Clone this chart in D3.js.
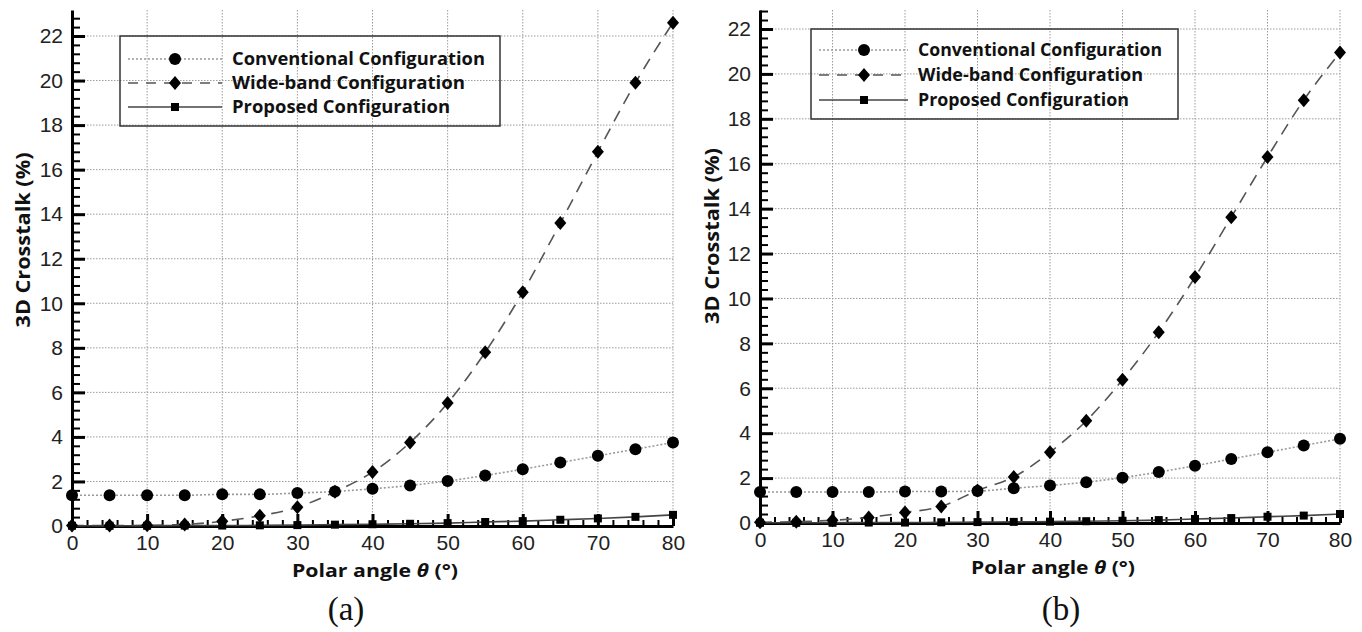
<!DOCTYPE html>
<html>
<head>
<meta charset="utf-8">
<script src="https://cdn.jsdelivr.net/npm/d3@7"></script>
<style>
  html, body { margin: 0; padding: 0; background: #fff; }
  svg { display: block; }
</style>
</head>
<body>
<svg id="chart" width="1362" height="632"></svg>
<script>
// ---------- data ----------
const angles = [0, 5, 10, 15, 20, 25, 30, 35, 40, 45, 50, 55, 60, 65, 70, 75, 80];

const convA = [1.38, 1.38, 1.38, 1.38, 1.42, 1.42, 1.48, 1.55, 1.67, 1.82, 2.02, 2.27, 2.55, 2.85, 3.15, 3.45, 3.75];
const wideA = [0.02, 0.02, 0.03, 0.07, 0.21, 0.46, 0.84, 1.54, 2.42, 3.75, 5.52, 7.8, 10.5, 13.6, 16.8, 19.9, 22.6];
const propA = [0.01, 0.01, 0.01, 0.02, 0.02, 0.03, 0.04, 0.06, 0.08, 0.10, 0.13, 0.18, 0.22, 0.28, 0.34, 0.41, 0.50];

const convB = [1.38, 1.38, 1.38, 1.38, 1.40, 1.40, 1.42, 1.55, 1.67, 1.82, 2.02, 2.27, 2.55, 2.85, 3.15, 3.45, 3.75];
const wideB = [0.03, 0.06, 0.12, 0.25, 0.47, 0.74, 1.45, 2.05, 3.15, 4.55, 6.38, 8.5, 10.95, 13.62, 16.3, 18.83, 20.95];
const propB = [0.01, 0.01, 0.01, 0.02, 0.02, 0.03, 0.04, 0.05, 0.06, 0.08, 0.10, 0.13, 0.18, 0.22, 0.28, 0.33, 0.40];

const seriesNames = ["Conventional Configuration", "Wide-band Configuration", "Proposed Configuration"];
const xTickValues = [0, 10, 20, 30, 40, 50, 60, 70, 80];
const yTickValues = [0, 2, 4, 6, 8, 10, 12, 14, 16, 18, 20, 22];
const yTitle = "3D Crosstalk (%)";
const xTitleMain = "Polar angle ";
const xTitleSym = "\u03B8";
const xTitleUnit = " (\u00B0)";
const panelLabels = ["(a)", "(b)"];

// ---------- layout ----------
const panels = [
  { conv: convA, wide: wideA, prop: propA, label: panelLabels[0],
    left: 72, right: 673, y0: 526, y22: 36, top: 10,
    legend: { x: 120, y: 36, w: 380, h: 90, rows: [59, 83, 107], lx1: 128, lx2: 222, mx: 175, tx: 232,
              font: 17.5, lens: [253, 233, 218] },
    yTitleX: 23, yTitleY: 240, yTitleLen: 175, xTitleX: 375, xTitleY: 577, xTitleLen: 166, labX: 346, labY: 620 },
  { conv: convB, wide: wideB, prop: propB, label: panelLabels[1],
    left: 760, right: 1340, y0: 523, y22: 29, top: 10,
    legend: { x: 811, y: 29, w: 367, h: 90, rows: [50, 75, 100], lx1: 819, lx2: 908, mx: 864, tx: 918,
              font: 17.5, lens: [244, 225, 211] },
    yTitleX: 712, yTitleY: 236, yTitleLen: 176, xTitleX: 1053, xTitleY: 574, xTitleLen: 164, labX: 1061, labY: 620 }
];

const svg = d3.select("#chart");
const tickFont = "'Liberation Sans', Arial, sans-serif";
const boldFont = "'Open Sans', 'Noto Sans', sans-serif";

const styles = [
  { stroke: "#9a9a9a", dash: "2,2", width: 1.6, marker: "circle" },
  { stroke: "#555", dash: "12,8", width: 1.6, marker: "diamond" },
  { stroke: "#444", dash: null, width: 1.6, marker: "square" }
];

function drawMarker(g, type, x, y) {
  if (type === "circle") {
    g.append("circle").attr("cx", x).attr("cy", y).attr("r", 6).attr("fill", "#000");
  } else if (type === "diamond") {
    g.append("path").attr("d", `M${x},${y - 7}L${x + 6},${y}L${x},${y + 7}L${x - 6},${y}Z`).attr("fill", "#000");
  } else {
    g.append("rect").attr("x", x - 4).attr("y", y - 4).attr("width", 8).attr("height", 8).attr("fill", "#000");
  }
}

panels.forEach(p => {
  const g = svg.append("g");
  const perUnit = (p.y0 - p.y22) / 22;
  const yMax = (p.y0 - p.top) / perUnit;
  const x = d3.scaleLinear().domain([0, 80]).range([p.left, p.right]);
  const y = d3.scaleLinear().domain([0, yMax]).range([p.y0, p.top]);

  // grid
  const grid = g.append("g").attr("stroke", "#9c9c9c").attr("stroke-width", 1).attr("stroke-dasharray", "1.5,1.5");
  grid.selectAll("line.v").data(xTickValues.filter(d => d > 0)).join("line")
    .attr("x1", d => x(d)).attr("x2", d => x(d)).attr("y1", p.top).attr("y2", p.y0);
  grid.selectAll("line.h").data(yTickValues.filter(d => d > 0)).join("line")
    .attr("x1", p.left).attr("x2", p.right).attr("y1", d => y(d)).attr("y2", d => y(d));

  // minor ticks
  const yMinor = d3.range(0, yMax + 0.001, 0.4).filter(v => Math.abs(v / 2 - Math.round(v / 2)) > 0.01);
  const xMinor = d3.range(0, 80.001, 2).filter(v => v % 10 !== 0);
  const yMinorAxis = d3.axisLeft(y).tickValues(yMinor).tickSizeInner(-8).tickSizeOuter(0).tickFormat("");
  const yMin = g.append("g").attr("transform", `translate(${p.left},0)`).call(yMinorAxis);
  yMin.selectAll(".tick line").attr("stroke", "#000").attr("stroke-width", 2);
  yMin.select(".domain").remove();
  const xMinorAxis = d3.axisBottom(x).tickValues(xMinor).tickSizeInner(-6).tickSizeOuter(0).tickFormat("");
  const xMin = g.append("g").attr("transform", `translate(0,${p.y0})`).call(xMinorAxis);
  xMin.selectAll(".tick line").attr("stroke", "#000").attr("stroke-width", 2);
  xMin.select(".domain").remove();

  // major axes
  const yAxis = d3.axisLeft(y).tickValues(yTickValues).tickSizeInner(-13).tickSizeOuter(0).tickPadding(9);
  const ya = g.append("g").attr("transform", `translate(${p.left},0)`).call(yAxis);
  ya.selectAll(".tick line").attr("stroke", "#000").attr("stroke-width", 3);
  ya.select(".domain").attr("stroke", "#000").attr("stroke-width", 3);
  ya.selectAll(".tick text").attr("font-family", tickFont).attr("font-size", 21).attr("fill", "#222");

  const xAxis = d3.axisBottom(x).tickValues(xTickValues).tickSizeInner(-12).tickSizeOuter(0).tickPadding(9);
  const xa = g.append("g").attr("transform", `translate(0,${p.y0})`).call(xAxis);
  xa.selectAll(".tick line").attr("stroke", "#000").attr("stroke-width", 3);
  xa.select(".domain").attr("stroke", "#000").attr("stroke-width", 3);
  xa.selectAll(".tick text").attr("font-family", tickFont).attr("font-size", 21).attr("fill", "#222");

  // series
  const seriesData = [p.conv, p.wide, p.prop];
  seriesData.forEach((vals, i) => {
    const st = styles[i];
    const line = d3.line().x((d, j) => x(angles[j])).y(d => y(d)).curve(d3.curveMonotoneX);
    const path = g.append("path").datum(vals).attr("d", line)
      .attr("fill", "none").attr("stroke", st.stroke).attr("stroke-width", st.width);
    if (st.dash) path.attr("stroke-dasharray", st.dash);
  });
  seriesData.forEach((vals, i) => {
    const mg = g.append("g");
    vals.forEach((v, j) => drawMarker(mg, styles[i].marker, x(angles[j]), y(v)));
  });

  // legend
  const L = p.legend;
  const lg = g.append("g");
  lg.append("rect").attr("x", L.x).attr("y", L.y).attr("width", L.w).attr("height", L.h)
    .attr("fill", "none").attr("stroke", "#333").attr("stroke-width", 1.5);
  seriesNames.forEach((name, i) => {
    const st = styles[i];
    const ry = L.rows[i];
    const ln = lg.append("line").attr("x1", L.lx1).attr("x2", L.lx2).attr("y1", ry).attr("y2", ry)
      .attr("stroke", st.stroke).attr("stroke-width", st.width);
    if (st.dash) ln.attr("stroke-dasharray", st.dash === "12,8" ? "10,8" : st.dash);
    drawMarker(lg, st.marker, L.mx, ry);
    lg.append("text").attr("x", L.tx).attr("y", ry).attr("dy", "0.36em")
      .attr("font-family", boldFont).attr("font-weight", "bold").attr("font-size", L.font)
      .attr("textLength", L.lens[i]).attr("lengthAdjust", "spacingAndGlyphs")
      .attr("fill", "#111").text(name);
  });

  // axis titles
  g.append("text").attr("transform", `translate(${p.yTitleX},${p.yTitleY}) rotate(-90)`)
    .attr("text-anchor", "middle").attr("dy", "0.35em")
    .attr("font-family", boldFont).attr("font-weight", "bold").attr("font-size", 20).attr("fill", "#111")
    .attr("textLength", p.yTitleLen).attr("lengthAdjust", "spacingAndGlyphs")
    .text(yTitle);
  const xt = g.append("text").attr("x", p.xTitleX).attr("y", p.xTitleY).attr("text-anchor", "middle")
    .attr("font-family", boldFont).attr("font-weight", "bold").attr("font-size", 18.5).attr("fill", "#111")
    .attr("textLength", p.xTitleLen).attr("lengthAdjust", "spacingAndGlyphs");
  xt.append("tspan").text(xTitleMain);
  xt.append("tspan").attr("font-style", "italic").text(xTitleSym);
  xt.append("tspan").text(xTitleUnit);

  g.append("text").attr("x", p.labX).attr("y", p.labY).attr("text-anchor", "middle")
    .attr("font-family", "'Liberation Serif', 'Times New Roman', serif").attr("font-size", 33).attr("fill", "#111")
    .text(p.label);
});
</script>
</body>
</html>
